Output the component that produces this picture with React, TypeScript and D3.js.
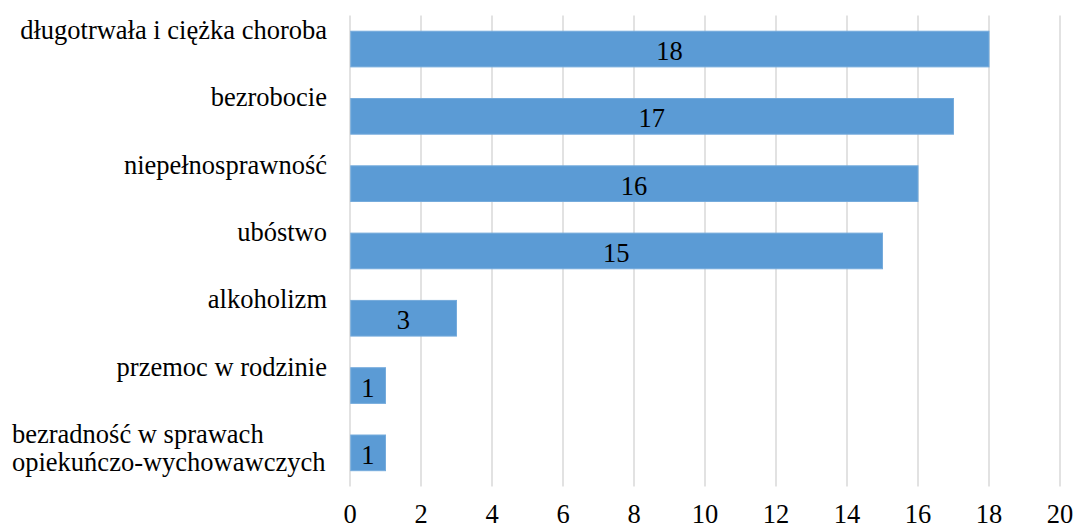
import React, { useRef, useEffect } from 'react';
import * as d3 from 'd3';

const categories = [
  ['długotrwała i ciężka choroba'],
  ['bezrobocie'],
  ['niepełnosprawność'],
  ['ubóstwo'],
  ['alkoholizm'],
  ['przemoc w rodzinie'],
  ['bezradność w sprawach', 'opiekuńczo-wychowawczych'],
];
const values = [18, 17, 16, 15, 3, 1, 1];
const xTicks = [0, 2, 4, 6, 8, 10, 12, 14, 16, 18, 20];

const App: React.FC = () => {
  const svgRef = useRef<SVGSVGElement | null>(null);

  useEffect(() => {
    const svg = d3.select(svgRef.current);
    svg.selectAll('*').remove(); // Clear previous content

    const width = 1077;
    const height = 528;
    const left = 350;
    const right = 1060;
    const top = 15.4;
    const bottom = 486.5;
    const font = "'Liberation Serif', 'Times New Roman', Times, serif";

    const keys = categories.map((c) => c.join(' '));

    const xScale = d3.scaleLinear().domain([0, 20]).range([left, right]);
    const yScale = d3
      .scaleBand()
      .domain(keys)
      .range([top, bottom])
      .paddingInner(0.47)
      .paddingOuter(0.235);

    svg.attr('width', width).attr('height', height);

    // gridlines
    svg
      .append('g')
      .selectAll('line')
      .data(xTicks)
      .enter()
      .append('line')
      .attr('x1', (d) => xScale(d))
      .attr('x2', (d) => xScale(d))
      .attr('y1', top)
      .attr('y2', bottom)
      .attr('stroke', '#d9d9d9')
      .attr('stroke-width', 1.5);

    // bars
    svg
      .append('g')
      .selectAll('rect')
      .data(values)
      .enter()
      .append('rect')
      .attr('x', xScale(0) + 0.75)
      .attr('y', (_, i) => yScale(keys[i])!)
      .attr('width', (d) => xScale(d) - xScale(0) - 0.75)
      .attr('height', yScale.bandwidth())
      .attr('fill', '#5b9bd5')
      .attr('stroke', '#75abdc')
      .attr('stroke-width', 1);

    const texts = svg.append('g').style('font-family', font).style('font-size', '26.5px');

    // value labels
    texts
      .append('g')
      .selectAll('text')
      .data(values)
      .enter()
      .append('text')
      .attr('x', (d) => (xScale(0) + xScale(d)) / 2)
      .attr('y', (_, i) => yScale(keys[i])! + yScale.bandwidth() / 2 + 11)
      .attr('text-anchor', 'middle')
      .attr('fill', '#000')
      .text((d) => d);

    // category labels
    categories.forEach((lines, i) => {
      const cy = yScale(keys[i])! + yScale.bandwidth() / 2;
      const multi = lines.length > 1;
      const t = texts
        .append('text')
        .attr('y', cy - 10)
        .attr('text-anchor', multi ? 'start' : 'end')
        .attr('fill', '#000');
      lines.forEach((line, j) => {
        t.append('tspan')
          .attr('x', multi ? 12 : 327)
          .attr('dy', j === 0 ? 0 : 28.4)
          .text(line);
      });
    });

    // x tick labels
    texts
      .append('g')
      .selectAll('text')
      .data(xTicks)
      .enter()
      .append('text')
      .attr('x', (d) => xScale(d))
      .attr('y', 523)
      .attr('text-anchor', 'middle')
      .attr('fill', '#000')
      .text((d) => d);
  }, []);

  return (
    <svg
      ref={svgRef}
      style={{ position: 'absolute', left: 0, top: 0, background: '#fff' }}
    ></svg>
  );
};

export default App;
